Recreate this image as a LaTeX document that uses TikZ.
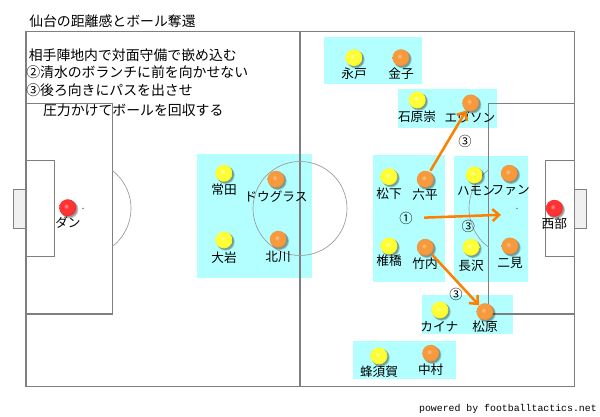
\documentclass[tikz,border=0pt]{standalone}
\usepackage{fontspec}
\setmainfont{Noto Sans CJK JP}
\newfontfamily\monofnt{Liberation Mono}
\usetikzlibrary{arrows.meta}
\definecolor{boxcyan}{HTML}{B3FFFF}
\definecolor{lineg}{HTML}{7F7F7F}
\definecolor{circg}{HTML}{9A9A9A}
\definecolor{arrowor}{HTML}{FF8000}
\definecolor{goalg}{HTML}{F0F0F0}
\definecolor{ybase}{HTML}{FFFF33}
\definecolor{ylight}{HTML}{FFFFB8}
\definecolor{ydark}{HTML}{E0D820}
\definecolor{obase}{HTML}{F79A3E}
\definecolor{olight}{HTML}{FFC488}
\definecolor{odark}{HTML}{D9782A}
\definecolor{rbase}{HTML}{FF3333}
\definecolor{rlight}{HTML}{FF9A9A}
\definecolor{rdark}{HTML}{D81818}
\pgfdeclareradialshading{ballY}{\pgfpoint{-5bp}{5bp}}{color(0bp)=(ylight); color(8bp)=(ybase); color(22bp)=(ybase); color(30bp)=(ydark); color(50bp)=(ydark)}
\pgfdeclareradialshading{ballO}{\pgfpoint{-5bp}{5bp}}{color(0bp)=(olight); color(8bp)=(obase); color(22bp)=(obase); color(30bp)=(odark); color(50bp)=(odark)}
\pgfdeclareradialshading{ballR}{\pgfpoint{-5bp}{5bp}}{color(0bp)=(rlight); color(8bp)=(rbase); color(22bp)=(rbase); color(30bp)=(rdark); color(50bp)=(rdark)}
\tikzset{
  pitchline/.style={draw=lineg, line width=0.9pt},
  thinline/.style={draw=circg, line width=0.5pt},
  zone/.style={fill=boxcyan, draw=none},
  player/.style={circle, minimum size=12.7pt, inner sep=0pt, shade},
  pshadow/.style={fill=black, opacity=0.22},
  pY/.style={player, shading=ballY},
  pO/.style={player, shading=ballO},
  pR/.style={player, shading=ballR},
  lbl/.style={font=\fontsize{9.5pt}{11pt}\selectfont, inner sep=0pt},
  txt/.style={font=\fontsize{10.4pt}{12pt}\selectfont, inner sep=0pt, anchor=west},
  num/.style={font=\fontsize{10pt}{12pt}\selectfont, inner sep=0pt},
  arr/.style={draw=arrowor, line width=1.9pt, -{Straight Barb[length=5pt,width=9pt,line width=1.9pt]}, shorten <=1pt}
}
% \plr{name}{style}{x}{y}{label x}{label y}{label}
\newcommand{\plr}[7]{%
  \fill[pshadow] (#3+1.8,#4+1.8) circle[radius=8.9];
  \fill[pshadow] (#3+1.2,#4+1.2) circle[radius=8.6];
  \node[#2] (#1) at (#3,#4) {};
  \node[lbl] (#1L) at (#5,#6) {#7};
}
\begin{document}
\begin{tikzpicture}[x=0.75pt,y=-0.75pt]
\useasboundingbox[fill=white] (0,0) rectangle (600,417);

% zones
\path[zone] (324,37.3) rectangle (421.7,84);
\path[zone] (397.7,89.3) rectangle (497.3,128.5);
\path[zone] (197.3,154) rectangle (312.3,277.5);
\path[zone] (372.7,155) rectangle (445,282);
\path[zone] (454,156) rectangle (528.3,282);
\path[zone] (422.3,295) rectangle (512.7,334.3);
\path[zone] (352.7,341) rectangle (455.7,379);

% pitch
\draw[pitchline] (26,31.3) rectangle (574.7,386.7);
\draw[pitchline] (300,31.3) -- (300,386.7);
\draw[thinline] (300,208.5) circle[radius=47];
\fill[lineg] (300,208.5) circle[radius=0.8];
% left
\draw[pitchline] (26,103.3) rectangle (112.3,314);
\draw[pitchline] (26,160.7) rectangle (54.3,256.7);
\draw[pitchline, fill=goalg] (13.3,189.3) rectangle (26,228.3);
\draw[thinline] (83,208.5) ++(-52.4:48) arc[start angle=-52.4, end angle=52.4, radius=48];
\fill[lineg] (83,208.5) circle[radius=0.8];
% right
\draw[pitchline] (488.7,103.3) rectangle (574.7,314);
\draw[pitchline] (545.7,160.7) rectangle (574.7,256.7);
\draw[pitchline, fill=goalg] (574.7,189.3) rectangle (586.7,228.3);
\draw[thinline] (517,208.5) ++(126.1:48) arc[start angle=126.1, end angle=233.9, radius=48];
\fill[lineg] (517,208.5) circle[radius=0.8];

% texts
\node[txt] (title) at (29,20.7) {仙台の距離感とボール奪還};
\node[txt] (t1) at (28.5,55) {相手陣地内で対面守備で嵌め込む};
\node[txt] (t2) at (26,72.7) {②清水のボランチに前を向かせない};
\node[txt] (t3) at (26,90.5) {③後ろ向きにパスを出させ};
\node[txt] (t4) at (29,110.5) {　圧力かけてボールを回収する};

% players
\plr{nagato}{pY}{354}{57.7}{354}{74}{永戸}
\plr{kaneko}{pO}{401}{57.7}{401}{74}{金子}
\plr{ishihara}{pY}{417.3}{100}{417}{117}{石原崇}
\plr{ewson}{pO}{470.7}{103}{470}{117}{エヴソン}
\plr{dan}{pR}{67.7}{207.7}{68}{223}{ダン}
\plr{tsuneta}{pY}{224}{173.3}{224}{190}{常田}
\plr{douglas}{pO}{276}{179.3}{276}{196.7}{ドウグラス}
\plr{oiwa}{pY}{224}{240}{224}{257.3}{大岩}
\plr{kitagawa}{pO}{278.3}{239.3}{278}{257}{北川}
\plr{matsushita}{pY}{389}{176.7}{389}{193.3}{松下}
\plr{rokuhei}{pO}{425.3}{179.3}{425}{195}{六平}
\plr{shiihashi}{pY}{389}{246}{389}{260.7}{椎橋}
\plr{takeuchi}{pO}{425.3}{247.3}{425}{264}{竹内}
\plr{hamon}{pY}{474.3}{175}{476}{190.7}{ハモン}
\plr{fan}{pO}{509.3}{173.3}{510.7}{190.7}{ファン}
\plr{nagasawa}{pY}{471}{247.3}{471}{265.5}{長沢}
\plr{futami}{pO}{510}{246}{510}{262.7}{二見}
\plr{nishibe}{pR}{554.3}{208.3}{554.3}{223.3}{西部}
\plr{kaina}{pY}{440}{310}{439.3}{326.7}{カイナ}
\plr{matsubara}{pO}{485}{311.7}{485}{326.7}{松原}
\plr{hachisuka}{pY}{379}{356}{379}{371.7}{蜂須賀}
\plr{nakamura}{pO}{430.7}{353.3}{430.7}{369.3}{中村}

% numbers
\node[num] (n1) at (406,218.3) {①};
\node[num] (n3a) at (465,141) {③};
\node[num] (n3b) at (468.3,226) {③};
\node[num] (n3c) at (456,294) {③};

% arrows
\coordinate (a1s) at (422.7,217.7);
\coordinate (a1e) at (501,214.8);
\draw[arr] (rokuhei) -- (ewson);
\draw[arr] (a1s) -- (a1e);
\draw[arr] (takeuchi) -- (matsubara);

\node[font=\monofnt\fontsize{7.4pt}{9pt}\selectfont, inner sep=0pt, anchor=east] (credit) at (597,409.3) {powered by footballtactics.net};
\end{tikzpicture}
\end{document}
